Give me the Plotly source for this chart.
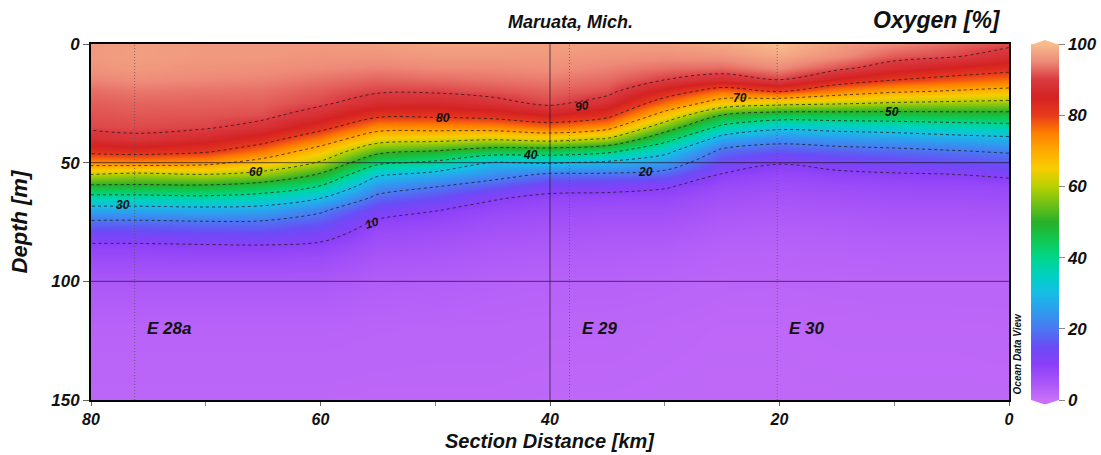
import plotly.graph_objects as go

# ---- data ----
section_km = [0, 5, 10, 15, 20, 25, 30, 35, 40, 45, 50, 55, 60, 65, 70, 76, 80]
depth_m = [0, 5, 10, 15, 20, 25, 30, 35, 40, 45, 50, 55, 60, 65, 70, 75, 80, 85, 90, 100, 120, 150]

# oxygen saturation profiles [%] at each section distance (top -> bottom)
oxy_km00 = [91, 87.7, 82.5, 75.9, 67.5, 57.6, 46.9, 37, 28.3, 21.1, 15.8, 10.9, 8, 6.5, 5.5, 4.5, 3.8, 3.2, 2.8, 2.2, 1.8, 1.5]
oxy_km05 = [93, 90.7, 84.6, 78, 69.3, 58.3, 46.6, 35.8, 26.9, 19.7, 14.8, 9.9, 7.6, 6.2, 5.2, 4.4, 3.7, 3.2, 2.8, 2.2, 1.7, 1.5]
oxy_km10 = [95, 92, 87.3, 80.3, 70.9, 59.2, 46, 34.3, 25.2, 18.4, 13.6, 9.4, 7.5, 6.2, 5.2, 4.4, 3.7, 3.2, 2.8, 2.2, 1.7, 1.5]
oxy_km15 = [97, 95.5, 91.5, 84.2, 74.4, 60.8, 45.7, 33.3, 24.1, 17.5, 12.1, 8.8, 7, 5.7, 4.8, 4, 3.4, 3, 2.6, 2.1, 1.7, 1.5]
oxy_km20 = [100, 98, 95, 90.3, 80.2, 62.5, 45.3, 32, 22.8, 16.1, 10.3, 8, 6.5, 5.3, 4.5, 3.8, 3.2, 2.8, 2.5, 2, 1.6, 1.4]
oxy_km25 = [98, 96, 93, 87.1, 76.4, 65.8, 49.8, 37.9, 26.6, 18.5, 14, 9.6, 7.5, 6, 5, 4.2, 3.5, 3, 2.6, 2.1, 1.6, 1.4]
oxy_km30 = [97, 95.5, 93.3, 90.1, 83.8, 76.4, 66.7, 55, 43.3, 32.7, 24.6, 17.4, 10.5, 8, 6.5, 5.5, 4.5, 3.8, 3.2, 2.5, 1.8, 1.5]
oxy_km35 = [97, 96, 94.5, 93, 91.3, 87.7, 82.1, 72.8, 59.3, 42.5, 28.4, 18.9, 11.9, 8.2, 6.5, 5.5, 4.6, 4, 3.5, 2.7, 2, 1.6]
oxy_km40 = [97, 96.5, 95.5, 94, 92.5, 91, 85.2, 76.7, 63.3, 45.6, 30.8, 18.9, 12.3, 8.5, 7, 6, 5, 4.2, 3.6, 2.8, 2, 1.6]
oxy_km45 = [97.5, 96.5, 95, 93.5, 91.5, 88.4, 82.6, 73.9, 61.1, 46, 29.5, 22.9, 16.7, 10.5, 8, 6.5, 5.5, 4.6, 4, 3, 2.2, 1.7]
oxy_km50 = [97.5, 96.5, 95, 93, 90.5, 86.7, 81.5, 73.3, 62.8, 50, 38.2, 27.4, 20.3, 15.2, 10.2, 8, 6.5, 5.5, 4.6, 3.4, 2.2, 1.7]
oxy_km55 = [97, 96, 94.5, 92.5, 90.5, 87.2, 81.5, 73.5, 64, 53, 41.8, 31.1, 24, 18, 13, 9, 7.2, 6, 5, 3.6, 2.3, 1.7]
oxy_km60 = [96.5, 96, 95, 93.5, 92, 90.8, 87.5, 82.4, 75, 66.6, 59.2, 49.1, 39.6, 30, 21.2, 16.4, 12.2, 9, 7, 4.5, 2.5, 1.8]
oxy_km65 = [96.5, 96.5, 95.5, 94.5, 93.3, 92.3, 91.2, 88.3, 82.8, 75.7, 66.8, 57.3, 45.9, 35.7, 26.6, 19.2, 14.4, 9.7, 7.5, 4.5, 2.5, 1.8]
oxy_km70 = [96.5, 96.5, 95.8, 94.8, 93.5, 92.5, 91.6, 90.6, 86.6, 81.2, 72.2, 59.8, 48.6, 37.6, 27.3, 19.5, 14.1, 9.5, 7.5, 4.5, 2.5, 1.8]
oxy_km76 = [97, 97, 96.5, 95.2, 93.8, 92.6, 91.8, 91, 89.1, 82.8, 73.8, 58.1, 48.5, 36.6, 26.7, 18.8, 13.3, 9.2, 7.3, 4.5, 2.5, 1.8]
oxy_km80 = [96.5, 96.5, 96, 94.6, 93.2, 92.2, 91.5, 90.8, 87.8, 82.2, 73.3, 60, 48.5, 36.5, 26.7, 18.9, 13.2, 9.2, 7.3, 4.5, 2.5, 1.8]

# stations
station_names = ["E 28a", "E 29", "E 30"]
station_km = [76.2, 38.3, 20.2]

# contour label values and where they sit on the section
label_levels = [10, 20, 30, 40, 50, 60, 70, 80, 90]
label_km = [55.5, 31.7, 77.2, 41.7, 10.2, 65.6, 23.4, 49.3, 37.2]
label_depth = [75.3, 53.8, 67.8, 46.8, 28.5, 54.0, 22.9, 31.3, 26.1]
label_angle = [-18, 0, 0, 0, 0, 0, 0, 0, -8]

x_ticks = [0, 20, 40, 60, 80]
y_ticks = [0, 50, 100, 150]
cb_ticks = [0, 20, 40, 60, 80, 100]

profiles = [oxy_km00, oxy_km05, oxy_km10, oxy_km15, oxy_km20, oxy_km25, oxy_km30,
            oxy_km35, oxy_km40, oxy_km45, oxy_km50, oxy_km55, oxy_km60, oxy_km65,
            oxy_km70, oxy_km76, oxy_km80]
z = [[p[i] for p in profiles] for i in range(len(depth_m))]

FONT = "Liberation Sans"
BI = dict(family=FONT, weight="bold", style="italic", color="#111111")

colorscale = [
    [0.00, "#c870f8"],
    [0.05, "#a855f8"],
    [0.10, "#8a3ff8"],
    [0.15, "#6a4cf6"],
    [0.20, "#4a78f2"],
    [0.25, "#2e9cee"],
    [0.30, "#16bde6"],
    [0.35, "#00d0c0"],
    [0.40, "#00d68a"],
    [0.45, "#10c850"],
    [0.50, "#28b028"],
    [0.55, "#70c018"],
    [0.60, "#b8d000"],
    [0.65, "#f8cc00"],
    [0.70, "#ffaa00"],
    [0.75, "#ff7e00"],
    [0.80, "#e83a1c"],
    [0.85, "#d42222"],
    [0.90, "#da3a40"],
    [0.95, "#ee8a78"],
    [1.00, "#f8bc8c"],
]

fig = go.Figure()
# colour field
fig.add_trace(go.Contour(
    x=section_km, y=depth_m, z=z, zmin=0, zmax=100,
    colorscale=colorscale,
    contours=dict(coloring="heatmap", start=10, end=90, size=10, showlines=False),
    line=dict(width=0),
    hoverinfo="skip",
    colorbar=dict(
        x=1.024, xanchor="left", y=0.5, yanchor="middle", len=1.0, lenmode="fraction",
        thickness=28, xpad=0, ypad=0, outlinewidth=0,
        tickvals=cb_ticks, ticks="outside", ticklen=6, tickcolor="#888888",
        tickfont=dict(size=17, **BI),
    ),
))
# isolines
fig.add_trace(go.Contour(
    x=section_km, y=depth_m, z=z,
    contours=dict(coloring="none", start=10, end=90, size=10, showlabels=False),
    line=dict(color="rgba(25,25,25,0.75)", width=1, dash="3px,3px"),
    showscale=False, hoverinfo="skip",
))

shapes = []
# grid lines
for gx in [40]:
    shapes.append(dict(type="line", xref="x", yref="paper", x0=gx, x1=gx, y0=0, y1=1,
                       line=dict(color="rgba(30,20,40,0.7)", width=1)))
for gy in [50, 100]:
    shapes.append(dict(type="line", xref="paper", yref="y", x0=0, x1=1, y0=gy, y1=gy,
                       line=dict(color="rgba(30,20,40,0.7)", width=1)))
# station lines
for sk in station_km:
    shapes.append(dict(type="line", xref="x", yref="paper", x0=sk, x1=sk, y0=0, y1=1,
                       line=dict(color="rgba(90,80,90,0.7)", width=1, dash="1px,2px")))
# colorbar end caps
shapes.append(dict(type="path", xref="paper", yref="paper",
                   path="M 1.024,0.9972 L 1.0392,1.0115 L 1.0545,0.9972 Z",
                   fillcolor="#f8bc8c", line=dict(width=0)))
shapes.append(dict(type="path", xref="paper", yref="paper",
                   path="M 1.024,0.0 L 1.0392,-0.0125 L 1.0545,0.0 Z",
                   fillcolor="#c870f8", line=dict(width=0)))

annotations = []
for name, sk in zip(station_names, station_km):
    annotations.append(dict(x=sk, y=120, xref="x", yref="y", text=name, showarrow=False,
                            xanchor="left", yanchor="middle", xshift=10,
                            font=dict(size=17, **BI)))
for lv, lk, ld, la in zip(label_levels, label_km, label_depth, label_angle):
    annotations.append(dict(x=lk, y=ld, xref="x", yref="y", text=str(lv), showarrow=False,
                            textangle=la, xanchor="center", yanchor="middle",
                            font=dict(size=12, **BI)))
annotations += [
    dict(x=0.5, y=-0.114, xref="paper", yref="paper", text="Section Distance [km]",
         showarrow=False, xanchor="center", yanchor="middle", font=dict(size=20, **BI)),
    dict(x=-0.078, y=0.5, xref="paper", yref="paper", text="Depth [m]", textangle=-90,
         showarrow=False, xanchor="center", yanchor="middle", font=dict(size=22, **BI)),
    dict(x=0.522, y=1.062, xref="paper", yref="paper", text="Maruata, Mich.",
         showarrow=False, xanchor="center", yanchor="middle", font=dict(size=18, **BI)),
    dict(x=0.9935, y=1.068, xref="paper", yref="paper", text="Oxygen [%]",
         showarrow=False, xanchor="right", yanchor="middle", font=dict(size=23, **BI)),
    dict(x=1.0095, y=0.13, xref="paper", yref="paper", text="Ocean Data View", textangle=-90,
         showarrow=False, xanchor="center", yanchor="middle", font=dict(size=10, **BI)),
]

fig.update_layout(
    width=1101, height=455,
    margin=dict(l=91, r=92, t=44, b=55, pad=0, autoexpand=False),
    paper_bgcolor="white", plot_bgcolor="white",
    showlegend=False,
    shapes=shapes, annotations=annotations,
    xaxis=dict(range=[80, 0], tickvals=x_ticks, ticks="outside", ticklen=4, tickcolor="#666666",
               minor=dict(dtick=10, tick0=0, ticks="outside", ticklen=4, tickcolor="#888888"),
               showline=True, mirror=True, linecolor="black", linewidth=2,
               showgrid=False, zeroline=False, tickfont=dict(size=16, **BI)),
    yaxis=dict(range=[150, 0], tickvals=y_ticks, ticks="outside", ticklen=6, tickcolor="#666666",
               showline=True, mirror=True, linecolor="black", linewidth=2,
               showgrid=False, zeroline=False, tickfont=dict(size=17, **BI)),
)

fig.write_html("out.html")
